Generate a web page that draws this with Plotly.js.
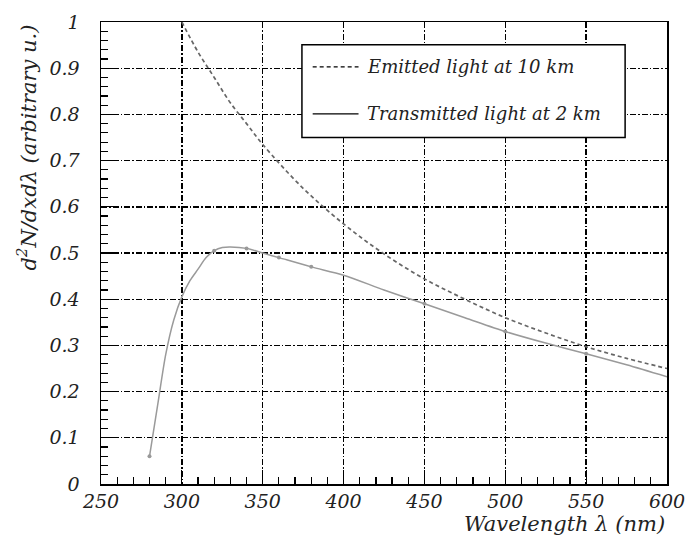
<!DOCTYPE html>
<html>
<head>
<meta charset="utf-8">
<script src="https://cdn.plot.ly/plotly-3.0.1.min.js"></script>
<style>html,body{margin:0;padding:0;background:#fff;}#chart{width:686px;height:537px;}</style>
</head>
<body>
<div id="chart"></div>
<script>
// Emitted light at 10 km (dashed)
const emittedX = [300, 310, 320, 330, 340, 350, 375, 400, 425, 450, 475, 500, 525, 550, 575, 600];
const emittedY = [1.0, 0.935, 0.88, 0.825, 0.78, 0.735, 0.64, 0.563, 0.498, 0.444, 0.40, 0.36, 0.327, 0.297, 0.272, 0.25];
// Transmitted light at 2 km (solid)
const transX = [280, 285, 290, 295, 300, 305, 310, 315, 320, 325, 330, 340, 350, 360, 380, 400, 425, 450, 475, 500, 525, 550, 575, 600];
const transY = [0.06, 0.17, 0.28, 0.355, 0.405, 0.44, 0.465, 0.49, 0.505, 0.512, 0.513, 0.51, 0.50, 0.49, 0.47, 0.452, 0.42, 0.39, 0.36, 0.33, 0.305, 0.282, 0.258, 0.232];
// measured points on the transmitted curve
const markX = [280, 320, 340, 360, 380, 450, 500, 550];
const markY = [0.06, 0.505, 0.51, 0.49, 0.47, 0.39, 0.33, 0.282];
const legendLabels = ["Emitted light at 10 km", "Transmitted light at 2 km"];
const xTitle = "Wavelength λ (nm)";
const yTitle = "d<sup>2</sup>N/dxdλ (arbitrary u.)";

const serif = "DejaVu Serif";
const fnt = (s) => ({family: serif, size: s, color: "#222", style: "italic"});

const traces = [
  {x: emittedX, y: emittedY, type: "scatter", mode: "lines", line: {color: "#666", width: 1.7, dash: "4px,3px", shape: "spline"}, showlegend: false, hoverinfo: "skip"},
  {x: transX, y: transY, type: "scatter", mode: "lines", line: {color: "#9a9a9a", width: 1.5, shape: "spline", smoothing: 0.8}, showlegend: false, hoverinfo: "skip"},
  {x: markX, y: markY, type: "scatter", mode: "markers", marker: {color: "#999", size: 4}, showlegend: false, hoverinfo: "skip"}
];

const gridStyle = {gridcolor: "#000", gridwidth: 1.4, griddash: "6px,2px,1.5px,2px"};

const layout = {
  width: 686, height: 537,
  font: {family: serif},
  margin: {l: 101, r: 19, t: 22, b: 53},
  paper_bgcolor: "#fff", plot_bgcolor: "#fff",
  showlegend: false,
  xaxis: Object.assign({
    range: [250, 600], tick0: 250, dtick: 50, showgrid: true,
    ticks: "inside", ticklen: 14, tickcolor: "#000", tickwidth: 1.2,
    minor: {ticks: "inside", dtick: 10, ticklen: 7, tickcolor: "#000", tickwidth: 1.2, showgrid: false},
    showline: true, linecolor: "#000", linewidth: 1.5, mirror: true,
    zeroline: false, tickfont: fnt(19), ticklabelstandoff: 0, ticklabeloverflow: "allow"
  }, gridStyle),
  yaxis: Object.assign({
    range: [0, 1], tick0: 0, dtick: 0.1, showgrid: true,
    ticks: "inside", ticklen: 14, tickcolor: "#000", tickwidth: 1.2,
    minor: {ticks: "inside", dtick: 0.02, ticklen: 7, tickcolor: "#000", tickwidth: 1.2, showgrid: false},
    showline: true, linecolor: "#000", linewidth: 1.5, mirror: true,
    zeroline: false, tickfont: fnt(19), ticklabelstandoff: 16, ticklabeloverflow: "allow"
  }, gridStyle),
  shapes: [
    {type: "rect", xref: "paper", yref: "paper", x0: 0.355, x1: 0.926, y0: 0.750, y1: 0.951, line: {color: "#000", width: 1.5}, fillcolor: "#fff", layer: "above"},
    {type: "line", xref: "paper", yref: "paper", x0: 0.374, x1: 0.455, y0: 0.903, y1: 0.903, line: {color: "#000", width: 1.2, dash: "4px,3px"}},
    {type: "line", xref: "paper", yref: "paper", x0: 0.374, x1: 0.455, y0: 0.801, y1: 0.801, line: {color: "#000", width: 1.2}}
  ],
  annotations: [
    {text: legendLabels[0], xref: "paper", yref: "paper", x: 0.466, y: 0.903, xanchor: "left", yanchor: "middle", showarrow: false, font: fnt(18)},
    {text: legendLabels[1], xref: "paper", yref: "paper", x: 0.466, y: 0.801, xanchor: "left", yanchor: "middle", showarrow: false, font: fnt(18)},
    {text: xTitle, xref: "paper", yref: "paper", x: 1.0, y: -0.056, xanchor: "right", yanchor: "top", showarrow: false, font: fnt(21)},
    {text: yTitle, xref: "paper", yref: "paper", x: -0.13, y: 1.0, xanchor: "center", yanchor: "top", textangle: -90, showarrow: false, font: fnt(21)}
  ]
};

Plotly.newPlot("chart", traces, layout, {displayModeBar: false, staticPlot: true});
</script>
</body>
</html>
